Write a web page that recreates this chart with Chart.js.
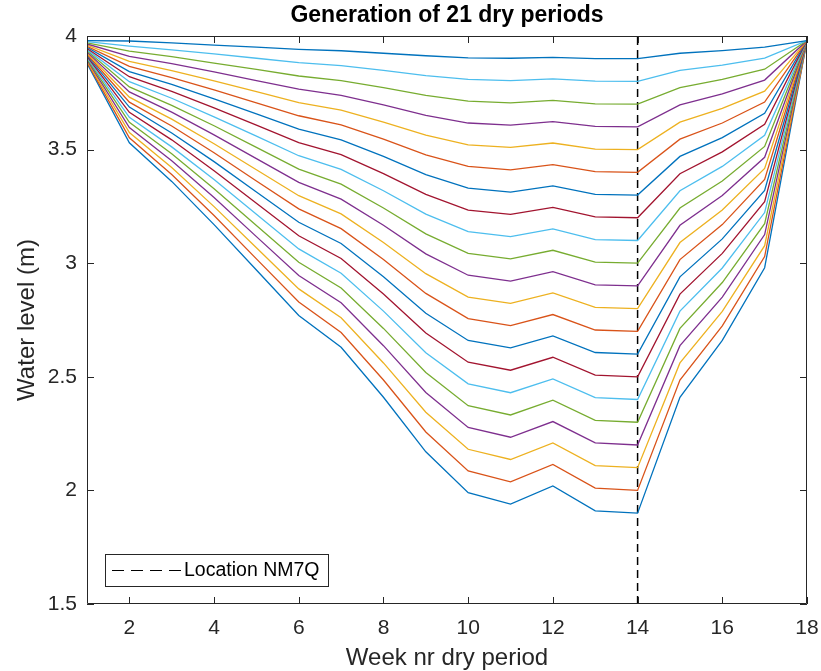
<!DOCTYPE html>
<html>
<head>
<meta charset="utf-8">
<script src="https://cdn.jsdelivr.net/npm/chart.js@4.4.1/dist/chart.umd.min.js"></script>
<style>
  body { margin: 0; background: #fff; }
  canvas { display: block; }
</style>
</head>
<body>
<canvas id="lineGraph" width="821" height="671"></canvas>
<script>
// weeks of the dry period (x axis)
const weeks = [1, 2, 3, 4, 5, 6, 7, 8, 9, 10, 11, 12, 13, 14, 15, 16, 17, 18];

// water level (m) of each generated dry period, top curve first
const period01 = [3.980, 3.978, 3.970, 3.960, 3.951, 3.941, 3.935, 3.924, 3.913, 3.904, 3.902, 3.906, 3.900, 3.900, 3.924, 3.936, 3.951, 3.98];
const period02 = [3.975, 3.955, 3.939, 3.921, 3.902, 3.883, 3.870, 3.849, 3.826, 3.809, 3.804, 3.811, 3.801, 3.800, 3.849, 3.872, 3.903, 3.98];
const period03 = [3.970, 3.933, 3.909, 3.881, 3.853, 3.824, 3.804, 3.773, 3.739, 3.713, 3.706, 3.717, 3.701, 3.700, 3.773, 3.809, 3.854, 3.98];
const period04 = [3.965, 3.910, 3.878, 3.842, 3.804, 3.766, 3.739, 3.697, 3.651, 3.617, 3.608, 3.623, 3.602, 3.600, 3.697, 3.745, 3.806, 3.98];
const period05 = [3.960, 3.888, 3.848, 3.802, 3.755, 3.707, 3.674, 3.621, 3.564, 3.521, 3.510, 3.529, 3.502, 3.500, 3.621, 3.681, 3.757, 3.98];
const period06 = [3.955, 3.866, 3.817, 3.763, 3.706, 3.649, 3.609, 3.546, 3.477, 3.426, 3.411, 3.434, 3.403, 3.400, 3.546, 3.617, 3.709, 3.98];
const period07 = [3.950, 3.843, 3.787, 3.723, 3.657, 3.590, 3.543, 3.470, 3.390, 3.330, 3.313, 3.340, 3.303, 3.300, 3.470, 3.553, 3.660, 3.98];
const period08 = [3.945, 3.821, 3.756, 3.684, 3.608, 3.531, 3.478, 3.394, 3.303, 3.234, 3.215, 3.246, 3.204, 3.200, 3.394, 3.490, 3.611, 3.98];
const period09 = [3.940, 3.799, 3.726, 3.644, 3.559, 3.473, 3.413, 3.319, 3.216, 3.139, 3.117, 3.151, 3.104, 3.100, 3.319, 3.426, 3.563, 3.98];
const period10 = [3.935, 3.776, 3.695, 3.605, 3.510, 3.414, 3.348, 3.243, 3.129, 3.043, 3.019, 3.057, 3.005, 3.000, 3.243, 3.362, 3.514, 3.98];
const period11 = [3.930, 3.754, 3.665, 3.565, 3.460, 3.356, 3.282, 3.167, 3.041, 2.947, 2.921, 2.963, 2.905, 2.900, 3.167, 3.298, 3.466, 3.98];
const period12 = [3.925, 3.731, 3.634, 3.526, 3.411, 3.297, 3.217, 3.091, 2.954, 2.851, 2.823, 2.869, 2.806, 2.800, 3.091, 3.234, 3.417, 3.98];
const period13 = [3.920, 3.709, 3.604, 3.486, 3.362, 3.239, 3.152, 3.016, 2.867, 2.756, 2.725, 2.774, 2.706, 2.700, 3.016, 3.170, 3.369, 3.98];
const period14 = [3.915, 3.687, 3.573, 3.447, 3.313, 3.180, 3.087, 2.940, 2.780, 2.660, 2.627, 2.680, 2.607, 2.600, 2.940, 3.107, 3.320, 3.98];
const period15 = [3.910, 3.664, 3.543, 3.407, 3.264, 3.121, 3.021, 2.864, 2.693, 2.564, 2.529, 2.586, 2.507, 2.500, 2.864, 3.043, 3.271, 3.98];
const period16 = [3.905, 3.642, 3.512, 3.368, 3.215, 3.063, 2.956, 2.789, 2.606, 2.469, 2.430, 2.491, 2.408, 2.400, 2.789, 2.979, 3.223, 3.98];
const period17 = [3.900, 3.620, 3.482, 3.328, 3.166, 3.004, 2.891, 2.713, 2.519, 2.373, 2.332, 2.397, 2.308, 2.300, 2.713, 2.915, 3.174, 3.98];
const period18 = [3.895, 3.597, 3.451, 3.289, 3.117, 2.946, 2.826, 2.637, 2.431, 2.277, 2.234, 2.303, 2.209, 2.200, 2.637, 2.851, 3.126, 3.98];
const period19 = [3.890, 3.575, 3.421, 3.249, 3.068, 2.887, 2.760, 2.561, 2.344, 2.181, 2.136, 2.209, 2.109, 2.100, 2.561, 2.788, 3.077, 3.98];
const period20 = [3.885, 3.552, 3.390, 3.210, 3.019, 2.829, 2.695, 2.486, 2.257, 2.086, 2.038, 2.114, 2.010, 2.000, 2.486, 2.724, 3.029, 3.98];
const period21 = [3.880, 3.530, 3.360, 3.170, 2.970, 2.770, 2.630, 2.410, 2.170, 1.990, 1.940, 2.020, 1.910, 1.900, 2.410, 2.660, 2.980, 3.98];

const periods = [period01, period02, period03, period04, period05, period06, period07,
                 period08, period09, period10, period11, period12, period13, period14,
                 period15, period16, period17, period18, period19, period20, period21];

// matlab colour order as it shows up from top to bottom
const periodColors = ['#0072BD', '#4DBEEE', '#77AC30', '#7E2F8E', '#EDB120', '#D95319', '#0072BD',
                      '#A2142F', '#4DBEEE', '#77AC30', '#7E2F8E', '#EDB120', '#D95319', '#0072BD',
                      '#A2142F', '#4DBEEE', '#77AC30', '#7E2F8E', '#EDB120', '#D95319', '#0072BD'];

// tick labels
const xTicks = [2, 4, 6, 8, 10, 12, 14, 16, 18];
const yTicks = [1.5, 2, 2.5, 3, 3.5, 4];

// dashed marker
const locationWeek = 14;
const locationName = 'Location NM7Q';

const axisColor = '#262626';
const fontFamily = "'Liberation Sans', Arial, sans-serif";

var datasets = [];
periods.forEach((p, i) => {
    datasets.push({
        label: 'period ' + (i + 1),
        data: weeks.map((w, j) => ({x: w, y: p[j]})),
        borderColor: periodColors[i],
        borderWidth: 1.3,
        pointRadius: 0,
        tension: 0,
        fill: false
    });
});

// vertical dashed line at the location
datasets.push({
    label: locationName,
    data: [{x: locationWeek, y: yTicks[0]}, {x: locationWeek, y: yTicks[yTicks.length - 1]}],
    borderColor: '#000',
    borderWidth: 1.5,
    borderDash: [8, 5],
    pointRadius: 0,
    fill: false
});

// no extra room for overhanging tick labels, the box has to fill the canvas like matlab
function noOverhang(s) {
    s.paddingLeft = 0;
    s.paddingRight = 0;
    s.paddingTop = 0;
    s.paddingBottom = 0;
}

// frame, inward ticks, titles and legend drawn like matlab does
const matlabAxes = {
    id: 'matlabAxes',
    afterDraw(chart) {
        const ctx = chart.ctx;
        const a = chart.chartArea;
        const x = chart.scales.x;
        const y = chart.scales.y;
        ctx.save();

        ctx.strokeStyle = axisColor;
        ctx.lineWidth = 1;
        ctx.beginPath();
        ctx.rect(Math.round(a.left) + 0.5, Math.round(a.top) + 0.5,
                 Math.round(a.width) - 1, Math.round(a.height) - 1);
        xTicks.forEach(v => {
            const px = Math.round(x.getPixelForValue(v)) + 0.5;
            ctx.moveTo(px, a.bottom); ctx.lineTo(px, a.bottom - 7);
            ctx.moveTo(px, a.top); ctx.lineTo(px, a.top + 7);
        });
        yTicks.forEach(v => {
            const py = Math.round(y.getPixelForValue(v)) + 0.5;
            ctx.moveTo(a.left, py); ctx.lineTo(a.left + 7, py);
            ctx.moveTo(a.right, py); ctx.lineTo(a.right - 7, py);
        });
        ctx.stroke();

        // title
        const cx = (a.left + a.right) / 2;
        ctx.fillStyle = '#000';
        ctx.textAlign = 'center';
        ctx.textBaseline = 'middle';
        ctx.font = 'bold 23px ' + fontFamily;
        ctx.fillText('Generation of 21 dry periods', cx, 16);

        // axis titles
        ctx.fillStyle = axisColor;
        ctx.font = '24px ' + fontFamily;
        ctx.fillText('Week nr dry period', cx, 658);
        ctx.save();
        ctx.translate(27, (a.top + a.bottom) / 2);
        ctx.rotate(-Math.PI / 2);
        ctx.fillText('Water level (m)', 0, 0);
        ctx.restore();

        // legend box
        const lx = a.left + 18, ly = a.bottom - 50, lw = 223, lh = 32;
        ctx.fillStyle = '#fff';
        ctx.fillRect(lx, ly, lw, lh);
        ctx.strokeStyle = axisColor;
        ctx.strokeRect(lx + 0.5, ly + 0.5, lw, lh);
        ctx.strokeStyle = '#000';
        ctx.setLineDash([12, 7]);
        ctx.lineWidth = 1.2;
        ctx.beginPath();
        ctx.moveTo(lx + 7, ly + lh / 2 + 0.5);
        ctx.lineTo(lx + 76, ly + lh / 2 + 0.5);
        ctx.stroke();
        ctx.setLineDash([]);
        ctx.fillStyle = '#000';
        ctx.textAlign = 'left';
        ctx.font = '19.5px ' + fontFamily;
        ctx.fillText(locationName, lx + 79, ly + lh / 2 + 1);

        ctx.restore();
    }
};

var ctx = document.getElementById('lineGraph').getContext('2d');
var lineGraph = new Chart(ctx, {
    type: 'line',
    data: { datasets: datasets },
    options: {
        responsive: false,
        animation: false,
        devicePixelRatio: 1,
        layout: { padding: { left: 0, top: 36, right: 14, bottom: 0 } },
        plugins: {
            legend: { display: false },
            title: { display: false },
            tooltip: { enabled: false }
        },
        scales: {
            x: {
                type: 'linear',
                min: weeks[0],
                max: weeks[weeks.length - 1],
                grid: { display: false, drawTicks: false },
                border: { display: false },
                afterBuildTicks: s => { s.ticks = xTicks.map(v => ({value: v})); },
                afterFit: s => { s.height = 67; noOverhang(s); },
                ticks: {
                    padding: 12,
                    maxRotation: 0,
                    autoSkip: false,
                    color: axisColor,
                    font: { family: fontFamily, size: 21 },
                    callback: v => String(v)
                }
            },
            y: {
                type: 'linear',
                min: yTicks[0],
                max: yTicks[yTicks.length - 1],
                grid: { display: false, drawTicks: false },
                border: { display: false },
                afterBuildTicks: s => { s.ticks = yTicks.map(v => ({value: v})); },
                afterFit: s => { s.width = 87; noOverhang(s); },
                ticks: {
                    padding: 10,
                    color: axisColor,
                    font: { family: fontFamily, size: 21 },
                    callback: v => String(v)
                }
            }
        }
    },
    plugins: [matlabAxes]
});
</script>
</body>
</html>
